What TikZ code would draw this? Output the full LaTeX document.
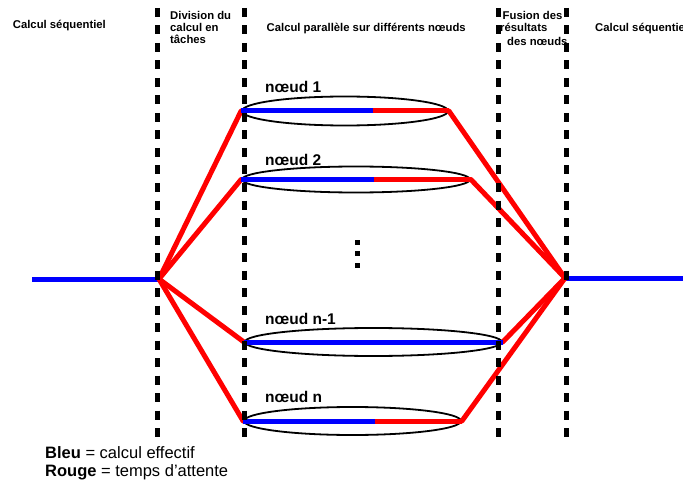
\documentclass[tikz,border=0pt]{standalone}
\usepackage{fontspec}
\setmainfont{Liberation Sans}
\usetikzlibrary{shapes.geometric}
\definecolor{effblue}{RGB}{0,0,255}
\definecolor{waitred}{RGB}{255,0,0}
\begin{document}
\begin{tikzpicture}[x=1pt,y=-1pt,
  phase/.style={black,line width=5pt,dash pattern=on 9pt off 8.5pt},
  head/.style={anchor=base west,inner sep=0pt,font=\fontsize{11.3}{12.5}\selectfont\bfseries},
  nodelabel/.style={anchor=base west,inner sep=0pt,font=\fontsize{15.5}{17}\selectfont\bfseries},
  legend/.style={anchor=base west,inner sep=0pt,font=\fontsize{16.5}{19}\selectfont},
  worker/.style={ellipse,draw=black,line width=1.8pt,inner sep=0pt},
  busy/.style={effblue,line width=5pt},
  idle/.style={waitred,line width=5pt},
  task/.style={waitred,line width=5pt,line cap=round},
  dotmark/.style={fill=black,inner sep=0pt,minimum size=5pt}]
\useasboundingbox (0,0) rectangle (683,484);
\fill[white] (0,0) rectangle (683,484);

% column headings
\node[head] (h1) at (12.7,29) {Calcul séquentiel};
\node[head] (h2a) at (170,19.5) {Division du};
\node[head] (h2b) at (170,31.5) {calcul en};
\node[head] (h2c) at (170,43.5) {tâches};
\node[head] (h3) at (266.5,32) {Calcul parallèle sur différents nœuds};
\node[head] (h4a) at (502.5,19.5) {Fusion des};
\node[head] (h4b) at (500,32) {résultats};
\node[head] (h4c) at (507,45.5) {des nœuds};
\node[head] (h5) at (595,32) {Calcul séquentiel};

% split and merge points
\coordinate (split) at (159,279);
\coordinate (merge) at (565,278);
\coordinate (seqin) at (32,279);
\coordinate (seqout) at (683,278);

% computing nodes
\node[worker,minimum width=206pt,minimum height=29pt] (n1) at (345,111) {};
\node[worker,minimum width=228pt,minimum height=26pt] (n2) at (356,179.5) {};
\node[worker,minimum width=257pt,minimum height=28pt] (nm) at (373.3,342) {};
\node[worker,minimum width=217pt,minimum height=28pt] (nn) at (352.5,421) {};

\node[nodelabel] (l1) at (265,93) {nœud 1};
\node[nodelabel] (l2) at (265,165) {nœud 2};
\node[nodelabel] (lm) at (265,324) {nœud n-1};
\node[nodelabel] (ln) at (265,402) {nœud n};

% sequential parts
\draw[busy] (seqin) -- (split);
\draw[busy] (merge) -- (seqout);

% dispatch and gather
\foreach \n in {n1,n2,nm,nn}{
  \draw[task] (split) -- (\n.west);
  \draw[task] (\n.east) -- (merge);
}

% work (blue) and waiting (red) on each node
\coordinate (s1) at (373,111);
\coordinate (s2) at (374,179.5);
\coordinate (sn) at (375,421);
\draw[busy] (n1.west) -- (s1);
\draw[idle] (s1) -- (n1.east);
\draw[busy] (n2.west) -- (s2);
\draw[idle] (s2) -- (n2.east);
\draw[busy] (nm.west) -- (nm.east);
\draw[busy] (nn.west) -- (sn);
\draw[idle] (sn) -- (nn.east);

% vertical ellipsis
\node[dotmark] (d1) at (357.7,242.7) {};
\node[dotmark] (d2) at (357.7,253.5) {};
\node[dotmark] (d3) at (357.7,265) {};

% phase separators
\coordinate (p1t) at (157,8);   \coordinate (p1b) at (157,442);
\coordinate (p2t) at (244,8);   \coordinate (p2b) at (244,442);
\coordinate (p3t) at (498,8);   \coordinate (p3b) at (498,442);
\coordinate (p4t) at (566,8);   \coordinate (p4b) at (566,442);
\draw[phase] (p1t) -- (p1b);
\draw[phase] (p2t) -- (p2b);
\draw[phase] (p3t) -- (p3b);
\draw[phase] (p4t) -- (p4b);

% legend
\node[legend] (lg1) at (45,458) {\textbf{Bleu} = calcul effectif};
\node[legend] (lg2) at (45,476) {\textbf{Rouge} = temps d'attente};
\end{tikzpicture}
\end{document}
